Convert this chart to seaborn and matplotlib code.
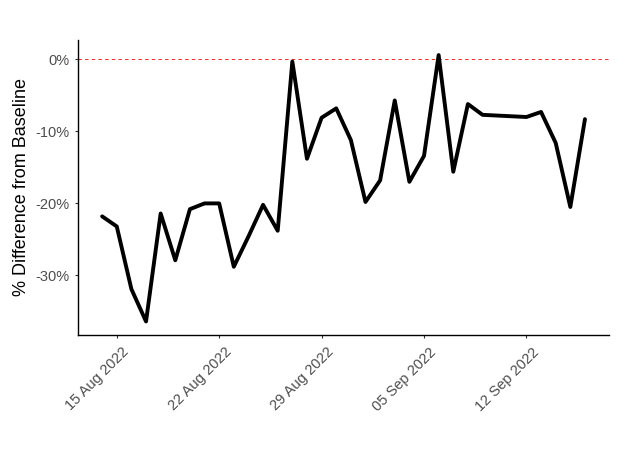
import pandas as pd
import matplotlib
matplotlib.use('Agg')
import matplotlib.pyplot as plt
import matplotlib.dates as mdates
import matplotlib.transforms as mtransforms
from matplotlib.ticker import FuncFormatter
import seaborn as sns

# Daily values, 14 Aug 2022 - 16 Sep 2022
start_date = '2022-08-14'
end_date = '2022-09-16'
pct_diff = [-21.8, -23.2, -31.9, -36.4, -21.4, -27.9, -20.8, -20.0, -20.0, -28.8,
            -24.6, -20.2, -23.8, -0.3, -13.8, -8.1, -6.8, -11.2, -19.8, -16.8,
            -5.7, -17.0, -13.4, 0.6, -15.6, -6.2, -7.7, -7.8, -7.9, -8.0,
            -7.3, -11.6, -20.5, -8.3]

df = pd.DataFrame({'date': pd.date_range(start_date, end_date, freq='D'),
                   'pct': pct_diff})

sns.set_style('ticks')
plt.rcParams['font.family'] = ['Liberation Sans', 'DejaVu Sans']

fig = plt.figure(figsize=(6.19, 4.5), dpi=100)
ax = fig.add_axes([0.126, 0.256, 0.858, 0.656])

ax.axhline(0, color='red', linestyle=(0, (4, 4)), linewidth=0.6)
sns.lineplot(data=df, x='date', y='pct', color='black', linewidth=2.8, ax=ax)

# ggplot-like expansion
span = df['date'].max() - df['date'].min()
ax.set_xlim(df['date'].min() - span * 0.05, df['date'].max() + span * 0.05)
lo, hi = min(pct_diff), max(pct_diff)
pad = (hi - lo) * 0.05
ax.set_ylim(lo - pad, hi + pad + 0.3)

ax.xaxis.set_major_locator(mdates.WeekdayLocator(byweekday=mdates.MO))
ax.xaxis.set_major_formatter(mdates.DateFormatter('%d %b %Y'))
ax.set_yticks([0, -10, -20, -30])
ax.yaxis.set_major_formatter(FuncFormatter(lambda v, p: f'{v:.0f}%'))

ax.tick_params(axis='both', labelsize=10.5, labelcolor='#4D4D4D', color='#333333',
               length=2.5, width=0.8)
shift = mtransforms.ScaledTranslation(0.05, -0.02, fig.dpi_scale_trans)
for lab in ax.get_xticklabels():
    lab.set_rotation(45)
    lab.set_ha('right')
    lab.set_rotation_mode('anchor')
    lab.set_transform(lab.get_transform() + shift)
ax.set_xlabel('')
ax.set_ylabel('% Difference from Baseline', fontsize=13, color='black')

for side in ['top', 'right']:
    ax.spines[side].set_visible(False)
for side in ['left', 'bottom']:
    ax.spines[side].set_color('black')
    ax.spines[side].set_linewidth(1.0)

fig.savefig('out.png', dpi=100, facecolor='white')
